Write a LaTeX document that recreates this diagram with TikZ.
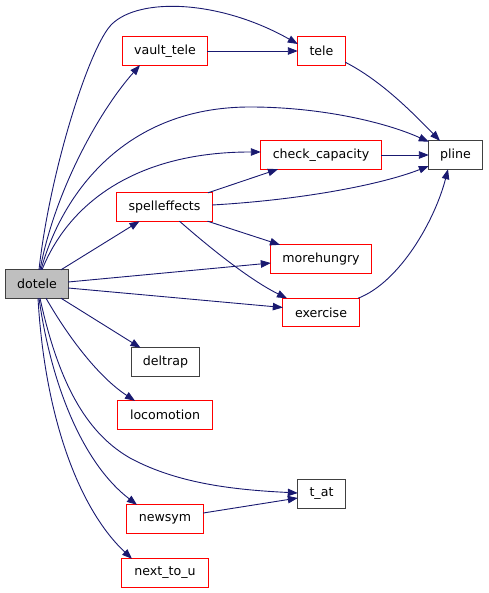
\documentclass[tikz,border=0pt]{standalone}
\usepackage{fontspec}
\setmainfont{DejaVu Sans}
\usetikzlibrary{arrows.meta}
\definecolor{edgecol}{HTML}{191970}
\definecolor{redbox}{HTML}{FF0000}
\definecolor{darkbox}{HTML}{404040}
\definecolor{rootfill}{HTML}{BFBFBF}
\begin{document}
\begin{tikzpicture}[x=1pt,y=-1pt,
  fn/.style={rectangle, minimum height=28pt, inner sep=0pt, text=black,
    font=\fontsize{12.6}{14}\selectfont},
  rbox/.style={fn, fill=white},
  kbox/.style={fn, fill=white},
  root/.style={fn, fill=rootfill},
  redline/.style={draw=redbox, line width=0.9pt},
  darkline/.style={draw=darkbox, line width=0.9pt},
  ed/.style={draw=edgecol, line width=0.9pt, -{Triangle[length=10pt,width=7.5pt]}}]
\useasboundingbox (0,0) rectangle (488,593);
% nodes
\node[root, minimum width=62pt] (dotele) at (37,284) {dotele};
\node[rbox, minimum width=84pt] (vault_tele) at (165,51) {vault\_tele};
\node[rbox, minimum width=47pt] (tele) at (321.5,51) {tele};
\node[kbox, minimum width=53pt] (pline) at (455.5,155) {pline};
\node[rbox, minimum width=120pt] (check_capacity) at (321,155) {check\_capacity};
\node[rbox, minimum width=95pt] (spelleffects) at (164.5,207) {spelleffects};
\node[rbox, minimum width=100pt] (morehungry) at (321,259) {morehungry};
\node[rbox, minimum width=76pt] (exercise) at (321,312.5) {exercise};
\node[kbox, minimum width=67pt] (deltrap) at (165.5,362) {deltrap};
\node[rbox, minimum width=94pt] (locomotion) at (165,415) {locomotion};
\node[kbox, minimum width=47pt] (t_at) at (321.5,494) {t\_at};
\node[rbox, minimum width=76pt] (newsym) at (165,519) {newsym};
\node[rbox, minimum width=86pt] (next_to_u) at (165,573) {next\_to\_u};
% borders
\foreach \n in {vault_tele,tele,check_capacity,spelleffects,morehungry,exercise,locomotion,newsym,next_to_u}
  \draw[redline] (\n.north west) rectangle (\n.south east);
\foreach \n in {dotele,pline,deltrap,t_at}
  \draw[darkline] (\n.north west) rectangle (\n.south east);
% edges
\draw[ed] ([xshift=2pt]dotele.north) .. controls (50,170) and (90,45) .. (112,24)
   .. controls (140,-3) and (220,0) .. ([yshift=7pt]tele.west);
\draw[ed] ([xshift=3pt]dotele.north) .. controls (55,190) and (100,110) .. ([xshift=-25pt]vault_tele.south);
\draw[ed] (vault_tele.east) -- (tele.west);
\draw[ed] ([xshift=4pt]dotele.north) .. controls (60,200) and (120,107) .. (250,107)
   .. controls (320,107) and (385,122) .. ([yshift=-1pt]pline.north west);
\draw[ed] ([xshift=5pt]dotele.north) .. controls (70,200) and (140,152) .. (250,152)
   -- ([yshift=3pt]check_capacity.west);
\draw[ed] ([xshift=43.5pt]spelleffects.north) -- ([xshift=-43pt]check_capacity.south);
\draw[ed] ([yshift=2pt]spelleffects.east) .. controls (300,200) and (380,185) .. ([yshift=-11pt]pline.west);
\draw[ed] (check_capacity.east) -- (pline.west);
\draw[ed] ([yshift=3pt]tele.south east) .. controls (380,80) and (410,110) .. ([xshift=-15.5pt]pline.north);
\draw[ed] ([xshift=37pt]exercise.north) .. controls (400,282) and (435,220) .. ([xshift=-7.5pt]pline.south);
\draw[ed] ([xshift=43pt]spelleffects.south) -- ([xshift=-41pt]morehungry.north);
\draw[ed] ([xshift=15pt]spelleffects.south) .. controls (210,248) and (250,280) .. ([xshift=-34pt]exercise.north);
\draw[ed] ([xshift=24pt]dotele.north) -- ([xshift=-25pt]spelleffects.south);
\draw[ed] ([yshift=2pt]dotele.east) -- ([yshift=-4pt]morehungry.west);
\draw[ed] ([yshift=-4pt]dotele.east) -- ([yshift=5pt]exercise.west);
\draw[ed] ([xshift=24pt]dotele.south) -- ([xshift=-25pt]deltrap.north);
\draw[ed] ([xshift=9pt]dotele.south) .. controls (70,340) and (100,378) .. ([xshift=-30pt]locomotion.north);
\draw[ed] ([xshift=3pt]dotele.south) .. controls (60,390) and (90,435) .. (130,458)
   .. controls (180,485) and (240,490) .. ([yshift=1pt]t_at.west);
\draw[ed] ([xshift=2pt]dotele.south) .. controls (52,390) and (85,465) .. ([xshift=-28pt]newsym.north);
\draw[ed] ([xshift=1pt]dotele.south) .. controls (45,420) and (80,510) .. ([xshift=-33pt]next_to_u.north);
\draw[ed] ([yshift=6pt]newsym.east) -- ([yshift=-4pt]t_at.west);
\end{tikzpicture}
\end{document}
